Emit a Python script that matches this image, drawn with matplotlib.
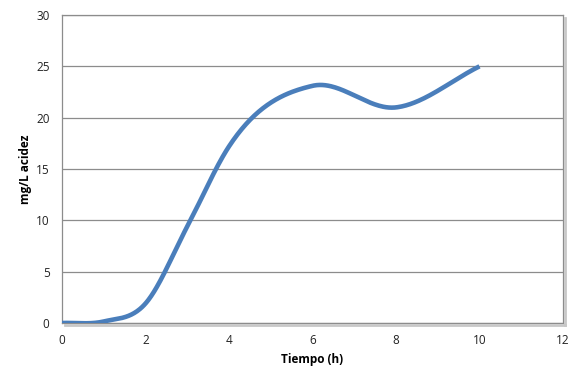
import numpy as np
import matplotlib
matplotlib.use("Agg")
import matplotlib.pyplot as plt

tiempo = [0, 1, 2, 3, 4, 6, 8, 10]
acidez = [0, 0.15, 1.9, 9.4, 17.2, 23.1, 21.0, 25.0]
x_ticks = [0, 2, 4, 6, 8, 10, 12]
y_ticks = [0, 5, 10, 15, 20, 25, 30]

FIG_W, FIG_H = 586, 385
L, R, T, B = 62, 563, 15, 323


def smooth(xs, ys, n=60):
    # smoothed line: cubic Hermite through the points, Bessel (3-point parabola) tangents
    x = np.asarray(xs, float)
    y = np.asarray(ys, float)
    h = np.diff(x)
    d = np.diff(y) / h
    m = np.empty_like(y)
    m[1:-1] = (h[1:] * d[:-1] + h[:-1] * d[1:]) / (h[:-1] + h[1:])
    m[0] = d[0]
    m[-1] = d[-1]
    X, Y = [], []
    for i in range(len(x) - 1):
        t = np.linspace(0, 1, n)
        if i > 0:
            t = t[1:]
        h00 = 2 * t**3 - 3 * t**2 + 1
        h10 = t**3 - 2 * t**2 + t
        h01 = -2 * t**3 + 3 * t**2
        h11 = t**3 - t**2
        X.append(x[i] + t * h[i])
        Y.append(h00 * y[i] + h10 * h[i] * m[i] + h01 * y[i + 1] + h11 * h[i] * m[i + 1])
    return np.concatenate(X), np.concatenate(Y)


plt.rcParams['font.family'] = ['Open Sans', 'DejaVu Sans']
fig = plt.figure(figsize=(FIG_W / 100, FIG_H / 100), dpi=100)
ax = fig.add_axes([L / FIG_W, 1 - B / FIG_H, (R - L) / FIG_W, (B - T) / FIG_H])

sx, sy = smooth(tiempo, acidez)
ax.plot(sx, sy, color='#4A7EBB', lw=3.3, solid_capstyle='butt', zorder=3)

ax.set_xlim(0, 12)
ax.set_ylim(0, 30)
ax.set_xticks(x_ticks)
ax.set_yticks(y_ticks)
ax.set_xticklabels([str(v) for v in x_ticks])
ax.set_yticklabels([str(v) for v in y_ticks])
ax.tick_params(length=0, labelsize=8.5, colors='#222222')
ax.tick_params(axis='x', pad=8)
ax.tick_params(axis='y', pad=9)
ax.yaxis.grid(True, color='#8c8c8c', lw=0.9)
ax.set_axisbelow(True)
for s in ax.spines.values():
    s.set_color('#8c8c8c')
    s.set_linewidth(0.9)

ax.set_xlabel('Tiempo (h)', fontsize=8.5, fontweight='bold', labelpad=4)
ax.set_ylabel('mg/L acidez', fontsize=8.5, fontweight='bold', labelpad=3)

# subtle shadow on right and bottom of plot area
fig.add_artist(plt.Line2D([(R + 1.5) / FIG_W] * 2, [1 - (B + 2) / FIG_H, 1 - (T + 3) / FIG_H],
                          color='#c8c8c8', lw=2, transform=fig.transFigure))
fig.add_artist(plt.Line2D([(L + 3) / FIG_W, (R + 2) / FIG_W], [1 - (B + 1.5) / FIG_H] * 2,
                          color='#c8c8c8', lw=2, transform=fig.transFigure))

fig.savefig('out.png', dpi=100, facecolor='white')
